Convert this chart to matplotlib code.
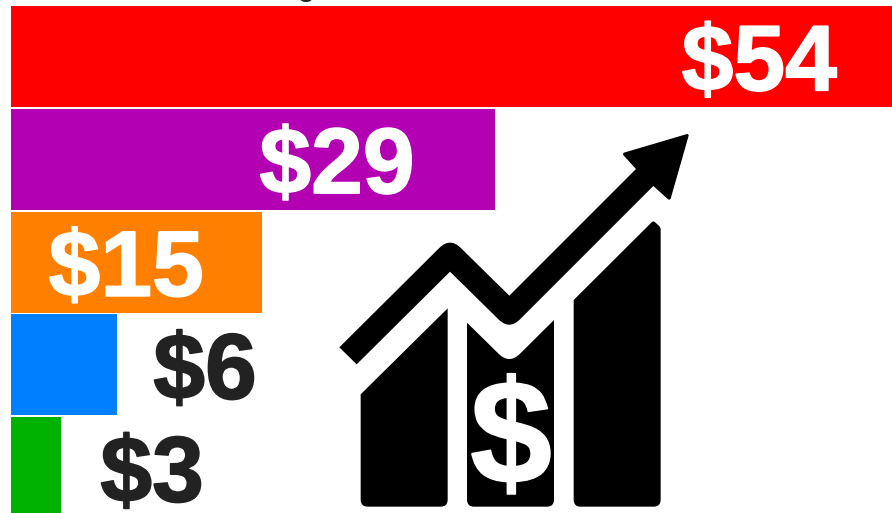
import matplotlib
matplotlib.use('Agg')
import numpy as np
import matplotlib.pyplot as plt
import matplotlib.patheffects as pe
from matplotlib.path import Path
from matplotlib.patches import PathPatch

W, H = 892, 513

categories = ['a', 'b', 'c', 'd', 'e']
values = [54, 29, 15.05, 6.35, 3]
labels = ['$54', '$29', '$15', '$6', '$3']
colors = ['#ff0000', '#b200b2', '#ff8000', '#0080ff', '#00b200']
label_colors = ['white', 'white', 'white', '#222222', '#222222']
label_offsets = [-153, -158, -136, 88, 91]   # px from bar end to label centre

plt.rcParams['font.family'] = ['Liberation Sans', 'DejaVu Sans']
plt.rcParams['text.parse_math'] = False


def rounded(points, radii):
    """Closed path through points with corners rounded by radii (same units)."""
    pts = np.array(points, dtype=float)
    n = len(pts)
    verts, codes = [], []
    for i in range(n):
        p, prev, nxt = pts[i], pts[i - 1], pts[(i + 1) % n]
        r = radii[i]
        a = p + (prev - p) / np.linalg.norm(prev - p) * r
        b = p + (nxt - p) / np.linalg.norm(nxt - p) * r
        verts.append(a)
        codes.append(Path.MOVETO if i == 0 else Path.LINETO)
        if r > 0:
            verts += [p, b]
            codes += [Path.CURVE3, Path.CURVE3]
    verts.append(verts[0])
    codes.append(Path.CLOSEPOLY)
    return Path(verts, codes)


def zoomed(points):
    return [(320 + x / 3, 120 + y / 3) for x, y in points]


fig = plt.figure(figsize=(W / 100, H / 100), dpi=100)
ax = fig.add_axes([11 / W, 0, 1 - 11 / W, 1])
y = np.arange(len(values))
ax.barh(y, values, height=0.9825, color=colors)
ax.set_xlim(0, 881 / 16.69)
ax.set_ylim(4.44, -0.55)
ax.axis('off')

for i, v in enumerate(values):
    ax.annotate(labels[i], (v, i), xytext=(label_offsets[i] * 0.72, -7),
                textcoords='offset points', ha='center', va='center',
                fontsize=67, fontweight='bold', color=label_colors[i],
                annotation_clip=False,
                path_effects=[pe.withStroke(linewidth=1.2, foreground=label_colors[i])])

# sliver of the cropped title
fig.text(306 / W, 1 + 4 / H, 'g', ha='center', va='baseline', fontsize=20,
         fontweight='bold', color='#222222')

# growth icon, drawn in pixel coordinates
icon = fig.add_axes([0, 0, 1, 1], facecolor='none')
icon.set_xlim(0, W)
icon.set_ylim(H, 0)
icon.axis('off')

arrow = [(58, 682), (390, 352), (568, 527), (948, 147), (905, 100), (1108, 40),
         (1050, 243), (1000, 198), (568, 630), (390, 455), (110, 733)]
arrow_r = [0, 15, 0, 0, 3, 3, 3, 0, 15, 0, 0]
bar1 = [(122, 823), (383, 565), (383, 1160), (122, 1160)]
bar1_r = [0, 0, 7, 7]
bar2 = [(441, 608), (568, 733), (702, 600), (702, 1160), (441, 1160)]
bar2_r = [0, 15, 0, 7, 7]
bar3 = [(761, 540), (1000, 302), (1022, 322), (1022, 1160), (761, 1160)]
bar3_r = [0, 2, 2, 7, 7]

for pts, r in [(arrow, arrow_r), (bar1, bar1_r), (bar2, bar2_r), (bar3, bar3_r)]:
    icon.add_patch(PathPatch(rounded(zoomed(pts), r), facecolor='black', edgecolor='none'))

icon.text(511, 445, '$', ha='center', va='center', fontsize=106,
          fontweight='bold', color='white',
          path_effects=[pe.withStroke(linewidth=1.2, foreground='white')])

fig.savefig('out.png', dpi=100)
